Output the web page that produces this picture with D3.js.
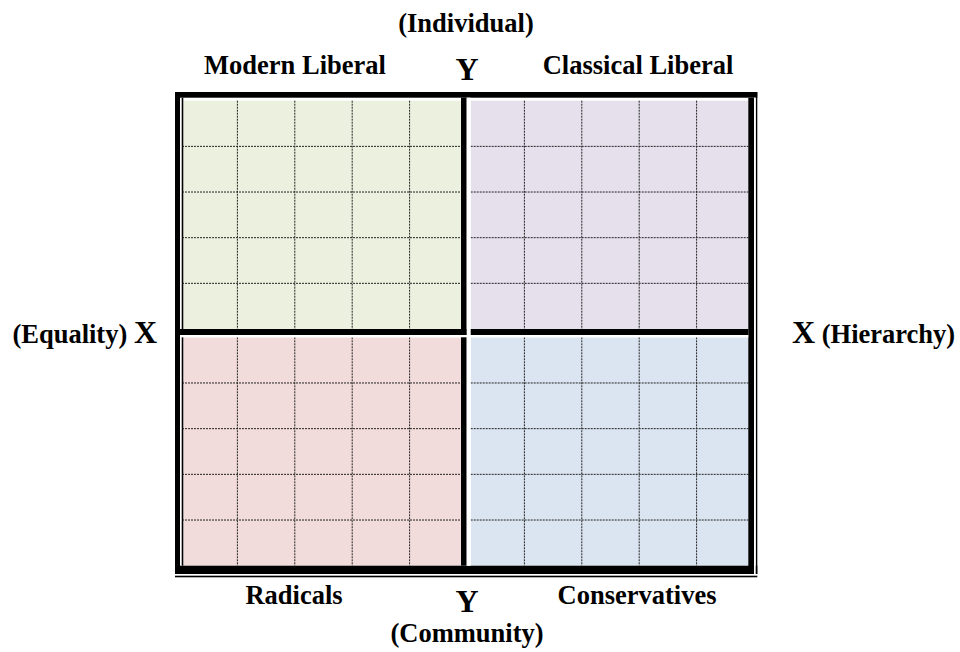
<!DOCTYPE html>
<html>
<head>
<meta charset="utf-8">
<script src="https://cdn.jsdelivr.net/npm/d3@7"></script>
<style>
  html, body { margin: 0; padding: 0; background: #ffffff; }
  svg text { font-family: "Liberation Serif", "Times New Roman", serif; font-weight: bold; fill: #000; }
</style>
</head>
<body>
<svg id="chart" width="960" height="652"></svg>
<script>
// ---- data ----
const quadrantNames = ["Modern Liberal", "Classical Liberal", "Radicals", "Conservatives"];
const quadrantCols  = [-1, 1, -1, 1];   // side of the X axis (left / right)
const quadrantRows  = [1, 1, -1, -1];   // side of the Y axis (top / bottom)
const quadrantColors = ["#ebf1de", "#e5e0ec", "#f2dcdb", "#dbe5f1"];
const gridTicks = [1, 2, 3, 4];
const axisEnds = ["(Individual)", "(Community)", "(Equality)", "(Hierarchy)"];
const axisNames = ["X", "Y"];

const svg = d3.select("#chart");

// scales: x over both halves, y separately for top and bottom halves
const x = d3.scaleLinear().domain([-5, 5]).range([180, 754]);
const yTop = d3.scaleLinear().domain([0, 5]).range([329, 100.7]);
const yBot = d3.scaleLinear().domain([0, 5]).range([337.3, 565.7]);

// quadrant fill rectangles
const quads = quadrantNames.map((n, i) => {
  const c = quadrantCols[i], r = quadrantRows[i];
  const x0 = c < 0 ? 183.3 : 470.7, x1 = c < 0 ? 461 : 748.3;
  const ys = r > 0 ? yTop : yBot;
  return { name: n, color: quadrantColors[i], c, r, x0, x1,
           y0: Math.min(ys(0), ys(5)), y1: Math.max(ys(0), ys(5)), ys };
});

svg.selectAll("rect.quad").data(quads).enter().append("rect")
  .attr("class", "quad")
  .attr("x", d => d.x0).attr("y", d => d.y0)
  .attr("width", d => d.x1 - d.x0).attr("height", d => d.y1 - d.y0)
  .attr("fill", d => d.color);

// dotted grid lines
quads.forEach(q => {
  const g = svg.append("g");
  const gx = t => x(q.c < 0 ? -5 + t : t);
  g.selectAll("line.v").data(gridTicks).enter().append("line")
    .attr("x1", gx).attr("x2", gx)
    .attr("y1", q.y0).attr("y2", q.y1)
    .attr("stroke", "#222").attr("stroke-width", 1).attr("stroke-dasharray", "2,1");
  g.selectAll("line.h").data(gridTicks).enter().append("line")
    .attr("x1", q.c < 0 ? 182 : q.x0).attr("x2", q.x1)
    .attr("y1", t => q.ys(t)).attr("y2", t => q.ys(t))
    .attr("stroke", "#222").attr("stroke-width", 1).attr("stroke-dasharray", "2,1");
});

// frame: thick and thin black bars
const bars = [
  [175, 92, 757.3, 97.7],      // outer top
  [175, 92, 180, 574],         // outer left thick
  [181.7, 97.7, 183.3, 565.7], // inner left thin
  [748.3, 97.7, 754, 574],     // right thick
  [755.7, 92, 757.3, 574],     // right thin
  [175, 565.7, 757.3, 574],    // bottom thick
  [175, 575.7, 757.3, 577.3],  // bottom thin
  [461, 97.7, 466.7, 565.7],   // center vertical
  [180, 329, 748.3, 335]       // center horizontal
];
svg.selectAll("rect.bar").data(bars).enter().append("rect")
  .attr("x", d => d[0]).attr("y", d => d[1])
  .attr("width", d => d[2] - d[0]).attr("height", d => d[3] - d[1])
  .attr("fill", "#000");
// white separators
const gaps = [
  [466.7, 97.7, 470.7, 565.7],
  [180, 335, 748.3, 337.3],
  [754, 97.7, 755.7, 574]
];
svg.selectAll("rect.gap").data(gaps).enter().append("rect")
  .attr("x", d => d[0]).attr("y", d => d[1])
  .attr("width", d => d[2] - d[0]).attr("height", d => d[3] - d[1])
  .attr("fill", "#fff");

// quadrant labels
const labelPos = [[295, 74], [638, 74], [294, 604], [637, 604]];
svg.selectAll("text.ql").data(quads).enter().append("text")
  .attr("class", "ql")
  .attr("x", (d, i) => labelPos[i][0]).attr("y", (d, i) => labelPos[i][1])
  .attr("text-anchor", "middle").attr("font-size", 26.5)
  .text(d => d.name);

// axis end labels
svg.append("text").attr("x", 466).attr("y", 32).attr("text-anchor", "middle")
  .attr("font-size", 26.5).text(axisEnds[0]);
svg.append("text").attr("x", 467).attr("y", 642).attr("text-anchor", "middle")
  .attr("font-size", 26.5).text(axisEnds[1]);

// Y markers
svg.append("text").attr("x", 467).attr("y", 80).attr("text-anchor", "middle")
  .attr("font-size", 32).text(axisNames[1]);
svg.append("text").attr("x", 467).attr("y", 612).attr("text-anchor", "middle")
  .attr("font-size", 32).text(axisNames[1]);

// X markers with end labels
const leftX = svg.append("text").attr("x", 157).attr("y", 343).attr("text-anchor", "end");
leftX.append("tspan").attr("font-size", 26.5).text(axisEnds[2] + " ");
leftX.append("tspan").attr("font-size", 32).text(axisNames[0]);
const rightX = svg.append("text").attr("x", 792).attr("y", 343).attr("text-anchor", "start");
rightX.append("tspan").attr("font-size", 32).text(axisNames[0]);
rightX.append("tspan").attr("font-size", 26.5).text(" " + axisEnds[3]);
</script>
</body>
</html>
